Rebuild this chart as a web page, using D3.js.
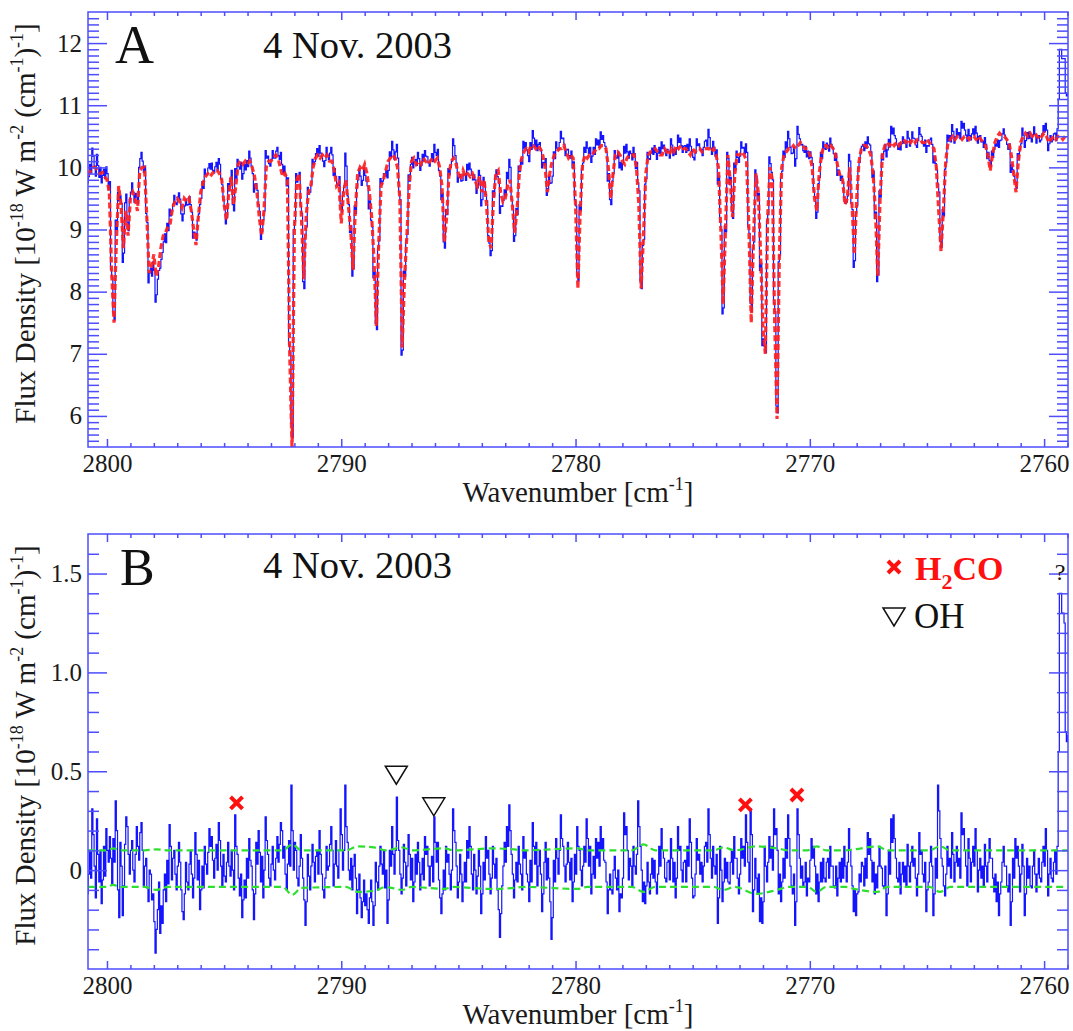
<!DOCTYPE html>
<html>
<head>
<meta charset="utf-8">
<script src="https://cdn.jsdelivr.net/npm/d3@7"></script>
<style>
body { margin: 0; background: #fff; }
text { font-family: "Liberation Serif", "Times New Roman", serif; }
</style>
</head>
<body>
<svg width="1073" height="1031"></svg>
<script>
// model grid (cm-1): first bin centre and bin width
var wnStart = 2800.8, wnStep = 0.1;

// model flux, 10 bins per row, row start wavenumber in comment
var model = [
  9.87, 9.95, 10.0, 10.0, 9.95, 9.9, 9.92, 9.85, 9.8, 9.6,      // 2800.8
  8.3, 7.5, 8.8, 9.7, 9.4, 8.7, 9.3, 8.9, 9.5, 9.6,             // 2799.8
  9.5, 9.3, 9.95, 10.0, 10.0, 9.2, 8.3, 8.4, 8.6, 8.25,         // 2798.8
  8.4, 8.7, 8.9, 8.95, 9.05, 9.1, 9.35, 9.45, 9.5, 9.45,        // 2797.8
  9.35, 9.5, 9.45, 9.5, 9.3, 9.0, 8.75, 9.2, 9.6, 9.75,         // 2796.8
  9.85, 9.9, 9.85, 9.9, 9.95, 9.95, 9.9, 9.8, 9.4, 9.15,        // 2795.8
  9.6, 9.85, 9.4, 9.7, 10.05, 10.1, 10.05, 10.1, 10.05, 10.1,   // 2794.8
  10.0, 9.85, 9.6, 9.2, 8.9, 9.3, 10.0, 10.1, 10.1, 10.15,      // 2793.8
  10.2, 10.15, 10.0, 9.85, 9.9, 9.8, 7.0, 5.45, 9.0, 9.8,       // 2792.8
  9.9, 9.2, 8.2, 9.2, 9.6, 9.7, 10.0, 10.15, 10.2, 10.15,       // 2791.8
  10.2, 10.15, 10.2, 10.1, 10.1, 9.95, 9.7, 9.75, 9.1, 9.6,     // 2790.8
  9.8, 9.4, 9.0, 8.35, 9.3, 9.9, 10.0, 9.95, 10.05, 9.9,        // 2789.8
  9.6, 9.2, 8.5, 7.45, 8.8, 9.7, 9.8, 9.95, 10.1, 10.15,        // 2788.8
  10.2, 10.15, 10.0, 9.5, 7.1, 8.2, 8.9, 9.7, 10.1, 10.15,      // 2787.8
  10.05, 10.1, 10.05, 10.15, 10.1, 10.05, 10.1, 10.15, 10.1, 10.15, // 2786.8
  10.0, 9.7, 8.8, 9.2, 9.9, 10.1, 10.15, 10.05, 9.9, 9.8,       // 2785.8
  9.95, 9.85, 9.9, 9.85, 9.9, 9.8, 9.7, 9.85, 9.6, 9.8,         // 2784.8
  9.4, 8.8, 8.7, 9.5, 9.9, 9.95, 9.6, 9.45, 9.5, 9.7,           // 2783.8
  9.8, 9.4, 8.95, 9.3, 9.9, 10.15, 10.25, 10.3, 10.25, 10.35,   // 2782.8
  10.35, 10.3, 10.35, 10.3, 10.2, 10.0, 9.6, 9.9, 10.1, 10.2,   // 2781.8
  10.25, 10.3, 10.3, 10.35, 10.25, 10.15, 10.2, 10.15, 9.4, 8.05, // 2780.8
  9.3, 10.05, 10.2, 10.15, 10.2, 10.2, 10.25, 10.3, 10.3, 10.35, // 2779.8
  10.35, 10.3, 10.0, 9.5, 9.9, 10.2, 10.25, 10.2, 10.1, 10.05,  // 2778.8
  10.15, 10.2, 10.2, 10.2, 10.0, 9.4, 8.05, 8.9, 9.9, 10.2,     // 2777.8
  10.25, 10.25, 10.3, 10.25, 10.2, 10.2, 10.3, 10.25, 10.2, 10.3, // 2776.8
  10.25, 10.35, 10.3, 10.35, 10.3, 10.3, 10.25, 10.2, 10.3, 10.25, // 2775.8
  10.3, 10.3, 10.25, 10.3, 10.3, 10.3, 10.25, 10.3, 10.2, 10.0, // 2774.8
  9.0, 7.8, 9.0, 10.2, 9.8, 9.2, 9.9, 10.2, 10.2, 10.25,        // 2773.8
  10.2, 10.1, 9.0, 7.5, 8.9, 9.9, 9.6, 8.6, 7.4, 7.0,           // 2772.8
  9.2, 10.0, 9.8, 7.5, 5.95, 8.6, 10.0, 10.2, 10.25, 10.3,      // 2771.8
  10.3, 10.35, 10.3, 10.35, 10.4, 10.35, 10.3, 10.3, 10.2, 10.0, // 2770.8
  9.5, 9.3, 9.9, 10.2, 10.35, 10.35, 10.3, 10.35, 10.3, 10.2,   // 2769.8
  10.0, 9.85, 9.8, 9.4, 9.5, 10.0, 9.4, 8.6, 9.5, 10.1,         // 2768.8
  10.3, 10.35, 10.35, 10.3, 10.2, 9.9, 9.3, 8.25, 9.5, 10.2,    // 2767.8
  10.35, 10.4, 10.35, 10.4, 10.35, 10.4, 10.35, 10.4, 10.45, 10.4, // 2766.8
  10.45, 10.4, 10.45, 10.4, 10.45, 10.45, 10.4, 10.4, 10.45, 10.4, // 2765.8
  10.35, 10.3, 10.0, 9.3, 8.65, 9.3, 10.1, 10.4, 10.45, 10.5,   // 2764.8
  10.45, 10.5, 10.5, 10.45, 10.5, 10.5, 10.45, 10.5, 10.5, 10.45, // 2763.8
  10.5, 10.45, 10.4, 10.35, 10.2, 9.95, 10.2, 10.4, 10.5, 10.55, // 2762.8
  10.5, 10.5, 10.45, 10.4, 10.2, 9.9, 9.6, 10.1, 10.4, 10.5,    // 2761.8
  10.55, 10.5, 10.55, 10.5, 10.55, 10.5, 10.45, 10.5, 10.55, 10.5, // 2760.8
  10.4, 10.45, 10.5, 10.45, 10.5, 10.5, 10.45, 10.5, 10.5       // 2759.8
];

// residual (observed - model) on the half-bin grid, 20 samples per 1 cm-1
var fineStart = 2800.825, fineStep = 0.05;
var resid = [
  -0.12, -0.02, 0.1, -0.04, 0.31, 0.18, 0.02, -0.14, 0.26, 0.08, -0.06, 0.1, -0.17, -0.05, 0.12, -0.03, 0.21, 0.1, 0.04, 0.17,
  0.06, -0.07, 0.16, 0.04, 0.35, 0.2, -0.1, -0.24, 0.14, 0.02, -0.23, -0.08, 0.13, 0.27, 0.22, 0.08, -0.02, 0.1, 0.15, 0.0,
  -0.06, 0.08, 0.22, 0.12, 0.05, 0.19, 0.24, 0.1, -0.08, 0.02, 0.06, -0.09, -0.16, 0.0, -0.02, -0.15, -0.12, -0.26, -0.42, -0.3,
  -0.2, -0.06, -0.32, -0.18, -0.27, -0.1, -0.02, -0.16, 0.05, -0.07, 0.23, 0.12, -0.05, 0.06, 0.1, -0.02, -0.1, 0.02, 0.14, 0.04,
  -0.1, -0.21, -0.25, -0.12, 0.04, -0.06, -0.1, 0.03, 0.1, -0.02, -0.14, -0.04, 0.19, 0.08, -0.05, 0.05, -0.2, -0.1, 0.02, -0.09,
  0.12, 0.03, -0.02, 0.09, 0.21, 0.12, 0.17, 0.05, -0.04, 0.06, 0.13, 0.0, 0.24, 0.15, 0.02, -0.08, 0.08, -0.03, -0.06, 0.04,
  0.14, 0.02, -0.03, 0.1, 0.0, -0.1, 0.28, 0.12, 0.08, -0.04, -0.13, -0.02, -0.24, -0.15, -0.05, -0.14, 0.06, -0.04, 0.16, 0.05,
  0.02, -0.1, -0.25, -0.12, 0.14, 0.03, 0.2, 0.09, -0.06, 0.07, -0.14, 0.0, 0.27, 0.15, 0.08, -0.04, -0.08, 0.03, 0.12, 0.0,
  -0.05, 0.06, 0.17, 0.04, 0.13, 0.24, 0.2, 0.06, 0.12, -0.02, -0.1, 0.03, 0.15, 0.02, 0.43, 0.2, 0.0, 0.14, 0.1, -0.04,
  -0.08, 0.02, 0.18, 0.06, -0.04, -0.15, -0.28, -0.16, 0.08, -0.03, -0.1, 0.02, 0.13, 0.04, -0.06, 0.07, 0.1, -0.02, 0.2, 0.08,
  -0.02, -0.1, -0.14, -0.04, 0.12, 0.0, 0.02, 0.13, 0.22, 0.1, -0.08, 0.03, 0.15, 0.02, -0.04, 0.1, 0.31, 0.18, 0.0, 0.1,
  0.43, 0.22, 0.14, 0.0, -0.05, 0.06, -0.1, 0.02, 0.08, -0.04, -0.22, -0.1, -0.02, -0.14, -0.24, -0.16, -0.05, -0.18, -0.12, -0.2,
  -0.27, -0.14, -0.05, -0.16, -0.28, -0.18, 0.04, -0.06, -0.1, 0.02, 0.12, 0.03, -0.02, 0.1, -0.09, 0.0, -0.27, -0.15, 0.1, 0.02,
  0.22, 0.08, -0.02, 0.1, 0.37, 0.15, 0.1, -0.02, -0.12, -0.04, 0.13, 0.04, -0.08, 0.02, 0.18, 0.08, -0.05, 0.06, -0.16, -0.06,
  0.08, -0.02, 0.14, 0.04, -0.1, -0.02, 0.06, -0.05, 0.17, 0.08, 0.12, 0.02, -0.08, 0.02, 0.07, -0.06, 0.27, 0.14, 0.04, 0.14,
  -0.05, -0.14, -0.22, -0.12, 0.0, -0.1, 0.12, 0.04, 0.08, -0.02, -0.1, 0.0, 0.31, 0.2, 0.14, 0.02, -0.14, -0.06, 0.08, -0.02,
  -0.16, -0.06, 0.04, -0.06, 0.15, 0.06, 0.22, 0.12, -0.02, -0.1, 0.08, 0.0, -0.12, -0.03, 0.1, 0.02, -0.22, -0.12, 0.04, -0.05,
  0.17, 0.06, 0.1, -0.02, -0.12, -0.04, 0.12, 0.03, -0.04, 0.06, -0.1, -0.2, -0.34, -0.22, -0.08, 0.02, 0.14, 0.04, 0.22, 0.12,
  0.33, 0.2, 0.08, -0.02, -0.14, -0.05, 0.04, -0.06, 0.12, 0.03, -0.02, -0.1, 0.17, 0.06, 0.1, -0.02, -0.06, -0.16, 0.05, -0.06,
  0.24, 0.12, 0.03, 0.14, -0.08, 0.02, 0.1, -0.02, -0.21, -0.12, 0.04, 0.14, -0.05, 0.06, -0.04, -0.16, -0.35, -0.24, 0.05, -0.06,
  0.16, 0.06, -0.02, 0.1, 0.28, 0.16, 0.12, 0.02, -0.06, 0.03, 0.14, 0.04, -0.05, 0.06, -0.16, -0.06, 0.08, -0.02, 0.22, 0.12,
  0.1, 0.0, -0.08, 0.02, 0.12, 0.04, 0.26, 0.16, 0.02, 0.12, -0.12, -0.02, 0.07, -0.04, 0.16, 0.06, 0.14, 0.02, 0.22, 0.1,
  0.16, 0.05, 0.04, -0.06, -0.22, -0.1, -0.02, -0.1, -0.12, 0.0, 0.07, -0.04, -0.1, 0.0, -0.21, -0.12, -0.14, -0.04, 0.29, 0.18,
  0.22, 0.1, -0.05, 0.06, 0.02, -0.08, 0.12, 0.02, -0.02, 0.08, 0.35, 0.22, 0.12, 0.0, -0.16, -0.06, -0.17, -0.08, 0.04, -0.06,
  -0.12, -0.02, 0.06, -0.04, 0.05, -0.06, -0.12, -0.02, 0.12, 0.02, 0.21, 0.1, 0.06, -0.04, -0.06, 0.04, 0.05, -0.05, 0.16, 0.06,
  -0.06, 0.04, -0.14, -0.04, 0.22, 0.1, 0.12, 0.0, -0.06, 0.04, 0.05, -0.06, 0.12, 0.02, 0.26, 0.14, -0.04, -0.14, -0.13, -0.02,
  0.16, 0.05, 0.08, -0.02, 0.04, -0.06, 0.02, 0.12, 0.14, 0.04, 0.31, 0.18, 0.06, -0.04, 0.12, 0.02, -0.02, 0.08, -0.27, -0.14,
  0.12, 0.0, -0.16, -0.06, 0.06, -0.04, 0.04, -0.06, -0.07, 0.04, 0.1, -0.02, 0.17, 0.06, 0.06, -0.04, -0.12, -0.02, 0.16, 0.06,
  0.12, 0.02, 0.28, 0.14, 0.04, -0.06, 0.31, 0.18, -0.21, -0.1, 0.06, -0.04, -0.12, -0.02, -0.26, -0.14, -0.27, -0.16, 0.12, 0.02,
  -0.06, 0.04, 0.17, 0.06, 0.12, 0.0, 0.31, 0.18, 0.21, 0.1, -0.12, -0.02, -0.16, -0.06, 0.06, -0.04, 0.16, 0.06, 0.28, 0.16,
  0.02, -0.08, -0.12, -0.02, -0.28, -0.16, 0.31, 0.18, 0.06, -0.04, 0.02, -0.08, -0.06, 0.04, -0.13, -0.04, -0.06, 0.05, 0.16, 0.06,
  0.12, 0.02, -0.12, -0.02, -0.16, -0.06, 0.04, -0.06, 0.06, -0.04, -0.06, 0.04, 0.06, -0.04, 0.12, 0.02, 0.02, -0.08, -0.09, 0.02,
  -0.13, -0.04, 0.04, -0.06, 0.06, -0.04, 0.12, 0.02, -0.06, 0.04, 0.21, 0.1, 0.02, -0.08, -0.21, -0.1, -0.23, -0.12, -0.11, -0.02,
  -0.06, 0.04, 0.02, -0.08, 0.06, -0.04, 0.19, 0.08, 0.16, 0.05, -0.06, 0.04, -0.12, -0.02, -0.09, 0.02, 0.12, 0.02, 0.01, -0.08,
  -0.09, 0.02, -0.23, -0.12, 0.1, -0.02, 0.26, 0.14, 0.28, 0.16, 0.06, -0.04, -0.06, 0.04, -0.12, -0.02, 0.04, -0.06, 0.02, -0.08,
  0.13, 0.02, -0.06, 0.04, 0.12, 0.02, 0.06, -0.04, -0.13, -0.02, 0.19, 0.08, 0.1, -0.02, -0.06, 0.04, -0.21, -0.1, -0.06, 0.04,
  0.12, 0.02, -0.23, -0.12, 0.06, -0.04, 0.43, 0.3, 0.16, 0.06, 0.02, -0.08, -0.13, -0.02, 0.12, 0.02, 0.06, -0.04, 0.19, 0.08,
  -0.06, 0.04, 0.12, 0.02, 0.06, -0.04, 0.29, 0.18, 0.21, 0.1, 0.02, -0.08, 0.16, 0.06, -0.06, 0.04, 0.12, 0.02, 0.21, 0.1,
  -0.11, 0.0, 0.06, -0.04, 0.02, -0.08, 0.13, 0.02, -0.06, 0.04, 0.16, 0.06, 0.06, -0.04, -0.11, -0.02, -0.16, -0.06, -0.23, -0.12,
  -0.06, 0.04, 0.12, 0.02, 0.02, -0.08, -0.11, -0.02, -0.28, -0.16, 0.06, -0.04, 0.16, 0.06, 0.12, 0.02, -0.11, -0.02, 0.13, 0.02,
  -0.23, -0.12, 0.06, -0.04, 0.02, -0.08, -0.09, 0.02, 0.1, -0.02, -0.11, -0.02, 0.06, -0.04, -0.06, 0.04, 0.12, 0.02, 0.21, 0.1,
  -0.13, -0.02, 0.06, -0.04, -0.06, 0.04, 0.1, -0.02, 0.12, 0.6, 1.4, 1.4, 1.3, 1.3, 1.25, 0.7, 0.65, 0.68
];

// noise envelope [wavenumber, low, high]
var envelope = [
  [2800.8, -0.085, 0.1], [2800.0, -0.085, 0.1], [2799.75, -0.075, 0.11],
  [2799.4, -0.085, 0.1], [2798.4, -0.085, 0.1], [2797.9, -0.1, 0.105],
  [2797.4, -0.085, 0.1], [2792.5, -0.085, 0.1], [2792.1, -0.125, 0.13],
  [2791.7, -0.09, 0.1], [2789.8, -0.085, 0.1], [2789.3, -0.11, 0.12],
  [2788.6, -0.105, 0.115], [2788.1, -0.085, 0.1], [2787.4, -0.1, 0.115],
  [2787.0, -0.085, 0.1], [2785.6, -0.095, 0.11], [2785.2, -0.085, 0.1],
  [2783.6, -0.095, 0.11], [2782.6, -0.09, 0.105], [2782.2, -0.085, 0.1],
  [2779.9, -0.095, 0.11], [2779.5, -0.085, 0.1], [2777.6, -0.085, 0.1],
  [2777.1, -0.11, 0.13], [2776.6, -0.085, 0.1], [2774.1, -0.085, 0.1],
  [2773.7, -0.1, 0.115], [2773.2, -0.085, 0.1], [2772.3, -0.12, 0.12],
  [2771.4, -0.1, 0.11], [2770.9, -0.085, 0.1], [2770.1, -0.085, 0.1],
  [2769.7, -0.11, 0.12], [2769.3, -0.085, 0.1], [2768.5, -0.085, 0.1],
  [2768.1, -0.095, 0.105], [2767.1, -0.11, 0.12], [2766.7, -0.085, 0.1],
  [2764.9, -0.085, 0.1], [2764.45, -0.11, 0.12], [2764.0, -0.085, 0.1],
  [2759.0, -0.085, 0.1]
];

// line identifications in panel B [wavenumber, flux]
var h2co = [[2794.47, 0.34], [2772.75, 0.33], [2770.55, 0.38]];
var oh = [[2787.65, 0.48], [2786.05, 0.32]];

var xMajor = [2800, 2790, 2780, 2770, 2760];
var yMajorA = [6, 7, 8, 9, 10, 11, 12];
var yMajorB = [0, 0.5, 1.0, 1.5];

var wn = model.map(function(d, i) { return +(wnStart - i * wnStep).toFixed(3); });
var wnFine = resid.map(function(d, j) { return +(fineStart - j * fineStep).toFixed(3); });
// observed = model bin + residual
var obs = resid.map(function(d, j) { return model[Math.floor(j / 2)] + d; });

var blue = "#4d4dff";
var svg = d3.select("svg");
var left = 88, right = 1068;

var x = d3.scaleLinear().domain([2800.81, 2758.98]).range([left, right]);
var xMinor = d3.range(2759, 2801).filter(function(v) { return xMajor.indexOf(v) < 0; });

function styleAxis(g) {
  g.attr("font-size", 25).attr("color", "#1a1a1a");
  g.select(".domain").remove();
  g.selectAll("line").attr("stroke", blue).attr("stroke-width", 1.5);
}

function drawAxes(y, top, bottom, yMajor, yMinor, yFmt) {
  // bottom
  styleAxis(svg.append("g").attr("transform", "translate(0," + bottom + ")")
    .call(d3.axisBottom(x).tickValues(xMajor).tickSize(-8).tickSizeOuter(0).tickPadding(7).tickFormat(d3.format("d"))));
  styleAxis(svg.append("g").attr("transform", "translate(0," + bottom + ")")
    .call(d3.axisBottom(x).tickValues(xMinor).tickSize(-4).tickSizeOuter(0).tickFormat("")));
  // top
  styleAxis(svg.append("g").attr("transform", "translate(0," + top + ")")
    .call(d3.axisTop(x).tickValues(xMajor).tickSize(-8).tickSizeOuter(0).tickFormat("")));
  styleAxis(svg.append("g").attr("transform", "translate(0," + top + ")")
    .call(d3.axisTop(x).tickValues(xMinor).tickSize(-4).tickSizeOuter(0).tickFormat("")));
  // left
  styleAxis(svg.append("g").attr("transform", "translate(" + left + ",0)")
    .call(d3.axisLeft(y).tickValues(yMajor).tickSize(-19).tickSizeOuter(0).tickPadding(6).tickFormat(yFmt)));
  styleAxis(svg.append("g").attr("transform", "translate(" + left + ",0)")
    .call(d3.axisLeft(y).tickValues(yMinor).tickSize(-11).tickSizeOuter(0).tickFormat("")));
  // right
  styleAxis(svg.append("g").attr("transform", "translate(" + right + ",0)")
    .call(d3.axisRight(y).tickValues(yMajor).tickSize(-19).tickSizeOuter(0).tickFormat("")));
  styleAxis(svg.append("g").attr("transform", "translate(" + right + ",0)")
    .call(d3.axisRight(y).tickValues(yMinor).tickSize(-11).tickSizeOuter(0).tickFormat("")));

  svg.append("rect").attr("x", left).attr("y", top)
    .attr("width", right - left).attr("height", bottom - top)
    .attr("fill", "none").attr("stroke", blue).attr("stroke-width", 1.5);
}

function supText(t, parts, size) {
  // parts: [text, 0 normal | 1 raise | 2 back down]
  parts.forEach(function(p) {
    var s = t.append("tspan").text(p[0]);
    if (p[1] === 1) s.attr("dy", -0.4 * size).attr("font-size", size * 0.62);
    if (p[1] === 2) s.attr("dy", 0.4 * size);
  });
}

function titles(top, bottom) {
  var cy = (top + bottom) / 2 - 6;
  var t = svg.append("text").attr("transform", "translate(35," + cy + ") rotate(-90)")
    .attr("text-anchor", "middle").attr("font-size", 29).attr("fill", "#1a1a1a");
  supText(t, [["Flux Density [10", 0], ["-18", 1], [" W m", 2], ["-2", 1], [" (cm", 2],
    ["-1", 1], [")", 2], ["-1", 1], ["]", 2]], 29);
  var tx = svg.append("text").attr("x", (left + right) / 2).attr("y", bottom + 55)
    .attr("text-anchor", "middle").attr("font-size", 29).attr("fill", "#1a1a1a");
  supText(tx, [["Wavenumber [cm", 0], ["-1", 1], ["]", 2]], 29);
}

function clip(id, top, bottom) {
  svg.append("clipPath").attr("id", id).append("rect")
    .attr("x", left).attr("y", top).attr("width", right - left).attr("height", bottom - top);
}

// ---------- panel A ----------
var topA = 12, botA = 447;
var yA = d3.scaleLinear().domain([5.5, 12.5]).range([botA, topA]);
clip("clipA", topA, botA);
var gA = svg.append("g").attr("clip-path", "url(#clipA)");

gA.append("path").datum(wnFine)
  .attr("d", d3.line().curve(d3.curveStep)
    .x(function(d) { return x(d); })
    .y(function(d, j) { return yA(obs[j]); }))
  .attr("fill", "none").attr("stroke", "#1414ff").attr("stroke-width", 1.2);

gA.append("path").datum(wn)
  .attr("d", d3.line()
    .x(function(d) { return x(d); })
    .y(function(d, i) { return yA(model[i]); }))
  .attr("fill", "none").attr("stroke", "#ff2020").attr("stroke-width", 3.2)
  .attr("stroke-dasharray", "6,3").attr("opacity", 0.92);

drawAxes(yA, topA, botA, yMajorA,
  d3.range(56, 125).filter(function(k) { return k % 10 !== 0; }).map(function(k) { return k / 10; }),
  d3.format("d"));
titles(topA, botA);

svg.append("text").attr("x", 115).attr("y", 63).attr("font-size", 54).attr("fill", "#111").text("A");
svg.append("text").attr("x", 263).attr("y", 58).attr("font-size", 38.5).attr("fill", "#111").text("4 Nov. 2003");

// ---------- panel B ----------
var topB = 534, botB = 969;
var yB = d3.scaleLinear().domain([-0.5, 1.7]).range([botB, topB]);
clip("clipB", topB, botB);
var gB = svg.append("g").attr("clip-path", "url(#clipB)");

gB.append("path").datum(wnFine)
  .attr("d", d3.line().curve(d3.curveStep)
    .x(function(d) { return x(d); })
    .y(function(d, j) { return yB(resid[j]); }))
  .attr("fill", "none").attr("stroke", "#1414ff").attr("stroke-width", 1.2);

[1, 2].forEach(function(k) {
  gB.append("path").datum(envelope)
    .attr("d", d3.line().curve(d3.curveMonotoneX)
      .x(function(d) { return x(d[0]); })
      .y(function(d) { return yB(d[k]); }))
    .attr("fill", "none").attr("stroke", "#2ee02e").attr("stroke-width", 2.2)
    .attr("stroke-dasharray", "7,4");
});

drawAxes(yB, topB, botB, yMajorB,
  d3.range(-4, 17).filter(function(k) { return k % 5 !== 0; }).map(function(k) { return k / 10; }),
  function(d) { return d === 0 ? "0" : d3.format(".1f")(d); });
titles(topB, botB);

svg.append("text").attr("x", 120).attr("y", 585).attr("font-size", 52).attr("fill", "#111").text("B");
svg.append("text").attr("x", 263).attr("y", 578).attr("font-size", 38.5).attr("fill", "#111").text("4 Nov. 2003");

function cross(cx, cy) {
  return "M" + (cx - 6) + "," + (cy - 6) + "L" + (cx + 6) + "," + (cy + 6) +
    "M" + (cx + 6) + "," + (cy - 6) + "L" + (cx - 6) + "," + (cy + 6);
}
function tri(cx, cy) {
  return "M" + (cx - 11) + "," + (cy - 9) + "L" + (cx + 11) + "," + (cy - 9) + "L" + cx + "," + (cy + 9) + "Z";
}

svg.selectAll("path.h2co").data(h2co).enter().append("path").attr("class", "h2co")
  .attr("d", function(d) { return cross(x(d[0]), yB(d[1])); })
  .attr("stroke", "#ff1010").attr("stroke-width", 4).attr("fill", "none");
svg.selectAll("path.oh").data(oh).enter().append("path").attr("class", "oh")
  .attr("d", function(d) { return tri(x(d[0]), yB(d[1])); })
  .attr("stroke", "#111").attr("stroke-width", 1.5).attr("fill", "none");

// legend
svg.append("path").attr("d", cross(894, 567)).attr("stroke", "#ff1010").attr("stroke-width", 4).attr("fill", "none");
var lg = svg.append("text").attr("x", 915).attr("y", 580).attr("font-size", 34)
  .attr("font-weight", "bold").attr("fill", "#ff1010");
lg.append("tspan").text("H");
lg.append("tspan").attr("dy", 9).attr("font-size", 22).text("2");
lg.append("tspan").attr("dy", -9).text("CO");
svg.append("path").attr("d", tri(894, 617)).attr("stroke", "#111").attr("stroke-width", 1.5).attr("fill", "none");
svg.append("text").attr("x", 914).attr("y", 628).attr("font-size", 35).attr("fill", "#111").text("OH");
svg.append("text").attr("x", 1060).attr("y", 580).attr("text-anchor", "middle")
  .attr("font-size", 24).attr("fill", "#111").text("?");
</script>
</body>
</html>
